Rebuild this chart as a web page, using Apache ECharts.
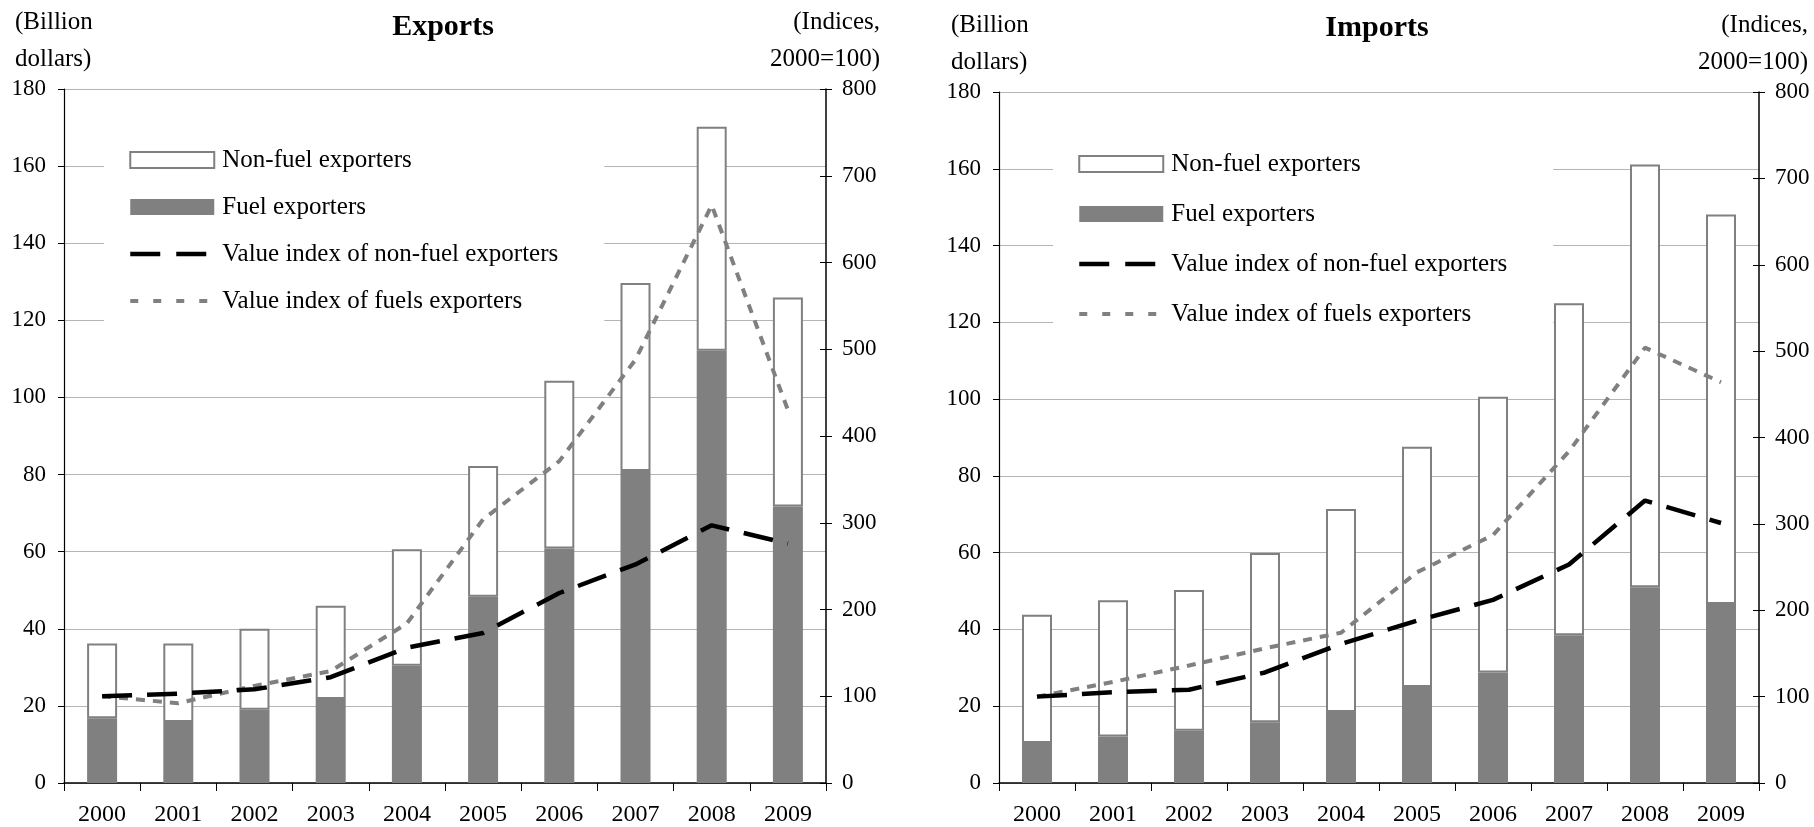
<!DOCTYPE html>
<html>
<head>
<meta charset="utf-8">
<title>Exports and imports</title>
<script src="https://cdn.jsdelivr.net/npm/echarts@6/dist/echarts.min.js"></script>
<style>
  html, body { margin: 0; padding: 0; background: #fff; }
  #chart { width: 1814px; height: 827px; }
</style>
</head>
<body>
<div id="chart"></div>
<script>
// Years on the category axis
const years = ['2000', '2001', '2002', '2003', '2004', '2005', '2006', '2007', '2008', '2009'];

// Exports, billion dollars (stacked: fuel exporters at the bottom)
const exportsFuel    = [16.8, 15.8, 19.0, 21.8, 30.4, 48.3, 60.8, 80.9, 112.1, 71.7];
const exportsNonFuel = [19.4, 20.4, 21.0, 24.2, 30.2, 33.9, 43.5, 48.8, 58.1, 54.2];
// Exports value indices, 2000 = 100
const exportsNonFuelIndex = [100, 103, 108, 122, 156, 173, 219, 252, 297, 276];
const exportsFuelIndex    = [100, 92, 112, 129, 184, 304, 371, 488, 666, 430];

// Imports, billion dollars
const importsFuel    = [10.4, 12.1, 13.6, 15.8, 18.5, 25.0, 28.8, 38.5, 51.0, 46.6];
const importsNonFuel = [33.4, 35.5, 36.7, 44.1, 52.9, 62.6, 71.8, 86.5, 110.1, 101.5];
// Imports value indices, 2000 = 100
const importsNonFuelIndex = [100, 105, 108, 128, 161, 188, 212, 253, 327, 301];
const importsFuelIndex    = [100, 117, 136, 156, 174, 244, 287, 384, 504, 464];

// Axis ranges
const leftMax = 180, leftStep = 20;
const rightMax = 800, rightStep = 100;

const FONT = 'Liberation Serif';
const GREY = '#808080';

const names = {
  nonFuel: 'Non-fuel exporters',
  fuel: 'Fuel exporters',
  nonFuelIdx: 'Value index of non-fuel exporters',
  fuelIdx: 'Value index of fuels exporters'
};

function xAxisFor(gridIndex) {
  return {
    type: 'category', gridIndex: gridIndex, data: years,
    boundaryGap: true,
    axisLine: { lineStyle: { color: '#000', width: 1.5 } },
    axisTick: { show: true, length: 8, interval: 0, lineStyle: { color: '#000' } },
    axisLabel: { fontFamily: FONT, fontSize: 24, color: '#000', margin: 20, interval: 0 },
    splitLine: { show: false }
  };
}

function leftAxis(gridIndex) {
  return {
    type: 'value', gridIndex: gridIndex, position: 'left',
    min: 0, max: leftMax, interval: leftStep,
    axisLine: { show: true, lineStyle: { color: '#000', width: 1.2 } },
    axisTick: { show: true, length: 6, lineStyle: { color: '#000' } },
    axisLabel: { fontFamily: FONT, fontSize: 23, color: '#000', margin: 18 },
    splitLine: { show: true, lineStyle: { color: '#b4b4b4', width: 1.2 } }
  };
}

function rightAxis(gridIndex) {
  return {
    type: 'value', gridIndex: gridIndex, position: 'right',
    min: 0, max: rightMax, interval: rightStep,
    axisLine: { show: true, lineStyle: { color: '#000', width: 1.5 } },
    axisTick: { show: true, length: 6, lineStyle: { color: '#000' } },
    axisLabel: { fontFamily: FONT, fontSize: 23, color: '#000', margin: 16 },
    splitLine: { show: false }
  };
}

// Inward half of the crossing ticks on the index axis
function rightInnerTicks(gridIndex) {
  return {
    type: 'value', gridIndex: gridIndex, position: 'right',
    min: 0, max: rightMax, interval: rightStep,
    axisLine: { show: false },
    axisTick: { show: true, inside: true, length: 6, lineStyle: { color: '#000' } },
    axisLabel: { show: false },
    splitLine: { show: false }
  };
}

function seriesFor(gridIdx, yBase, fuel, nonFuel, nonFuelIdx, fuelIdx, stackName) {
  return [
    {
      name: names.fuel, type: 'bar', xAxisIndex: gridIdx, yAxisIndex: yBase,
      stack: stackName, data: fuel, barWidth: 30,
      itemStyle: { color: GREY, borderColor: GREY, borderWidth: 0 }
    },
    {
      name: names.nonFuel, type: 'bar', xAxisIndex: gridIdx, yAxisIndex: yBase,
      stack: stackName, data: nonFuel, barWidth: 30,
      itemStyle: { color: '#fff', borderColor: GREY, borderWidth: 2 }
    },
    {
      name: names.nonFuelIdx, type: 'line', xAxisIndex: gridIdx, yAxisIndex: yBase + 1,
      data: nonFuelIdx, symbol: 'none', smooth: false, z: 4,
      lineStyle: { color: '#000', width: 4.5, type: [30, 15], cap: 'butt' },
      itemStyle: { color: '#000' }
    },
    {
      name: names.fuelIdx, type: 'line', xAxisIndex: gridIdx, yAxisIndex: yBase + 1,
      data: fuelIdx, symbol: 'none', smooth: false, z: 3,
      lineStyle: { color: GREY, width: 4, type: [9, 8], cap: 'butt' },
      itemStyle: { color: GREY }
    }
  ];
}

function legendAt(left, top, gap) {
  return {
    orient: 'vertical', left: left, top: top,
    backgroundColor: '#fff',
    padding: [11, 46, 16, 24],
    itemWidth: 84, itemHeight: 16, itemGap: gap,
    selectedMode: false,
    textStyle: { fontFamily: FONT, fontSize: 25, color: '#000', lineHeight: 26, padding: [0, 0, 0, 3] },
    lineStyle: { width: 'inherit' },
    data: [
      { name: names.nonFuel, icon: 'rect' },
      { name: names.fuel, icon: 'rect' },
      // index lines: dashed stroke only, no marker in the middle
      { name: names.nonFuelIdx, itemStyle: { opacity: 0 }, lineStyle: { type: [30, 16], width: 4.5 } },
      { name: names.fuelIdx, itemStyle: { opacity: 0 }, lineStyle: { type: [8, 15], width: 4 } }
    ]
  };
}

function label(text, x, y, align, opts) {
  return {
    type: 'text', x: x, y: y, z: 10,
    style: Object.assign({
      text: text, fontFamily: FONT, fontSize: 25, fill: '#000',
      align: align, verticalAlign: 'middle'
    }, opts || {})
  };
}

const chart = echarts.init(document.getElementById('chart'), null, { renderer: 'canvas' });

chart.setOption({
  animation: false,
  backgroundColor: '#fff',
  grid: [
    { left: 64, right: 988, top: 89, bottom: 44, containLabel: false },
    { left: 999, right: 55, top: 92, bottom: 44, containLabel: false }
  ],
  xAxis: [xAxisFor(0), xAxisFor(1)],
  yAxis: [
    leftAxis(0), rightAxis(0), rightInnerTicks(0),
    leftAxis(1), rightAxis(1), rightInnerTicks(1)
  ],
  legend: [
    legendAt(104, 136, 21),
    legendAt(1053, 140, 24)
  ],
  series: [].concat(
    seriesFor(0, 0, exportsFuel, exportsNonFuel, exportsNonFuelIndex, exportsFuelIndex, 'exp'),
    seriesFor(1, 3, importsFuel, importsNonFuel, importsNonFuelIndex, importsFuelIndex, 'imp')
  ),
  graphic: [
    label('Exports', 443, 27, 'center', { fontSize: 30, fontWeight: 'bold' }),
    label('(Billion', 15, 22, 'left'),
    label('dollars)', 15, 59, 'left'),
    label('(Indices,', 880, 22, 'right'),
    label('2000=100)', 880, 59, 'right'),

    label('Imports', 1377, 28, 'center', { fontSize: 30, fontWeight: 'bold' }),
    label('(Billion', 951, 25, 'left'),
    label('dollars)', 951, 62, 'left'),
    label('(Indices,', 1808, 25, 'right'),
    label('2000=100)', 1808, 62, 'right')
  ]
});
</script>
</body>
</html>
